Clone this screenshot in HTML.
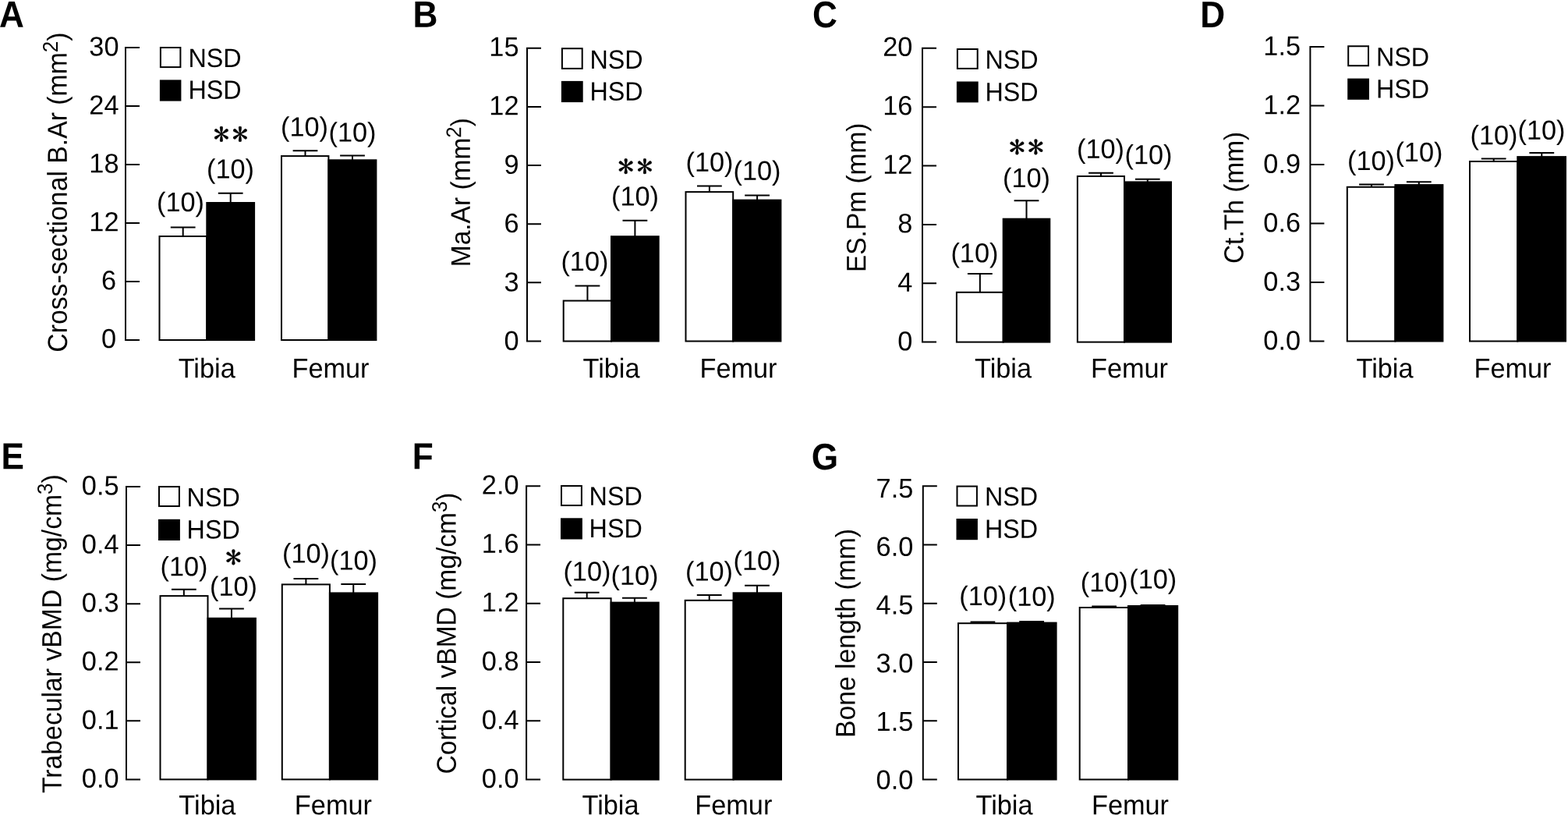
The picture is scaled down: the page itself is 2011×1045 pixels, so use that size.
<!DOCTYPE html>
<html lang="en">
<head>
<meta charset="utf-8">
<title>Bone morphometry: NSD vs HSD (Tibia, Femur)</title>
<style>
html,body{margin:0;padding:0;background:#fff}
body{width:2011px;height:1045px;overflow:hidden}
svg{display:block}
text{font-family:"Liberation Sans",Arial,Helvetica,sans-serif;fill:#000;text-rendering:geometricPrecision}
.let{font-weight:bold;font-size:47.5px}
.tk,.tl{font-size:34.3px}
.ttl{font-size:33.75px}
.lg{font-size:32.3px}
.nn{font-size:34.3px}
.st{font-family:"IPAGothic","DejaVu Serif",serif;font-size:39.3px;stroke:#000;stroke-width:.45px}
.ln{fill:none;stroke:#000;stroke-width:2}
.wb{fill:#fff;stroke:#000;stroke-width:2}
.bb{fill:#000;stroke:#000;stroke-width:2}
</style>
</head>
<body>
<svg xmlns="http://www.w3.org/2000/svg" width="2011" height="1045" viewBox="0 0 2011 1045">
<rect x="0" y="0" width="2011" height="1045" fill="#fff"/>
<g>
<text class="let" transform="translate(-1 34.7) rotate(0.05) scale(0.93 1)">A</text>
<text class="ttl" transform="translate(85.7 246.6) rotate(-90.05) scale(1 1.045)" text-anchor="middle">Cross-sectional B.Ar (mm<tspan style="font-size:25.99px" dy="-11">2</tspan><tspan dy="11">)</tspan></text>
<path class="ln" d="M179 61H161V436H179M161 136H179M161 211H179M161 286H179M161 361H179"/>
<text class="tl" transform="translate(152.5 71.6) rotate(0.05) scale(1 1.018)" text-anchor="end">30</text>
<text class="tl" transform="translate(152.5 146.5) rotate(0.05) scale(1 1.018)" text-anchor="end">24</text>
<text class="tl" transform="translate(152.5 221.4) rotate(0.05) scale(1 1.018)" text-anchor="end">18</text>
<text class="tl" transform="translate(152.5 296.3) rotate(0.05) scale(1 1.018)" text-anchor="end">12</text>
<text class="tl" transform="translate(149 371.2) rotate(0.05) scale(1 1.018)" text-anchor="end">6</text>
<text class="tl" transform="translate(149 446.1) rotate(0.05) scale(1 1.018)" text-anchor="end">0</text>
<rect class="wb" x="205.9" y="61" width="25.5" height="25.1"/>
<rect class="bb" x="205.9" y="103.4" width="25.5" height="25.2"/>
<text class="lg" transform="translate(241.5 86) rotate(0.05) scale(1 1.05)">NSD</text>
<text class="lg" transform="translate(241.5 126.8) rotate(0.05) scale(1 1.05)">HSD</text>
<path class="ln" d="M218.8 291.4H250.6M234.7 291.4V303"/>
<rect class="wb" x="204.5" y="303" width="60.8" height="133"/>
<text class="nn" transform="translate(231.5 271.1) rotate(0.05) scale(1 1.018)" text-anchor="middle">(10)</text>
<path class="ln" d="M279.8 247.7H311.6M295.7 247.7V260"/>
<rect class="bb" x="265.3" y="260" width="60.8" height="176"/>
<text class="nn" transform="translate(295.5 228.5) rotate(0.05) scale(1 1.018)" text-anchor="middle">(10)</text>
<text class="st" transform="translate(283.8 171.9) rotate(0.05) scale(1.06 1)" x="-9.82 12.96" y="14.93">**</text>
<path class="ln" d="M375.6 193.2H407.4M391.5 193.2V200.1"/>
<rect class="wb" x="361" y="200.1" width="60.4" height="235.9"/>
<text class="nn" transform="translate(390.5 174.5) rotate(0.05) scale(1 1.018)" text-anchor="middle">(10)</text>
<path class="ln" d="M436.1 199.6H467.9M452 199.6V205.3"/>
<rect class="bb" x="421.4" y="205.3" width="61" height="230.7"/>
<text class="nn" transform="translate(452 181.5) rotate(0.05) scale(1 1.018)" text-anchor="middle">(10)</text>
<text class="tk" transform="translate(265.2 484.2) rotate(0.05) scale(1 1.03)" text-anchor="middle">Tibia</text>
<text class="tk" transform="translate(424 484.2) rotate(0.05) scale(1 1.03)" text-anchor="middle">Femur</text>
</g>
<g>
<text class="let" transform="translate(529.5 34.7) rotate(0.05) scale(0.93 1)">B</text>
<text class="ttl" transform="translate(602.8 246.7) rotate(-90.05) scale(1 1.045)" text-anchor="middle" style="font-size:33.5px">Ma.Ar (mm<tspan style="font-size:25.8px" dy="-11">2</tspan><tspan dy="11">)</tspan></text>
<path class="ln" d="M694 61.8H676V437.5H694M676 136.94H694M676 212.08H694M676 287.22H694M676 362.36H694"/>
<text class="tl" transform="translate(665.5 71.9) rotate(0.05) scale(1 1.018)" text-anchor="end">15</text>
<text class="tl" transform="translate(665.5 147.28) rotate(0.05) scale(1 1.018)" text-anchor="end">12</text>
<text class="tl" transform="translate(665.5 222.66) rotate(0.05) scale(1 1.018)" text-anchor="end">9</text>
<text class="tl" transform="translate(665.5 298.04) rotate(0.05) scale(1 1.018)" text-anchor="end">6</text>
<text class="tl" transform="translate(665.5 373.42) rotate(0.05) scale(1 1.018)" text-anchor="end">3</text>
<text class="tl" transform="translate(665.5 448.8) rotate(0.05) scale(1 1.018)" text-anchor="end">0</text>
<rect class="wb" x="720.9" y="62.2" width="25.8" height="25.7"/>
<rect class="bb" x="720.9" y="104.9" width="25.8" height="25.2"/>
<text class="lg" transform="translate(756.5 88) rotate(0.05) scale(1 1.05)">NSD</text>
<text class="lg" transform="translate(756.5 128.7) rotate(0.05) scale(1 1.05)">HSD</text>
<path class="ln" d="M737.55 366.4H769.35M753.45 366.4V385.6"/>
<rect class="wb" x="722.7" y="385.6" width="61.3" height="51.9"/>
<text class="nn" transform="translate(749.9 347) rotate(0.05) scale(1 1.018)" text-anchor="middle">(10)</text>
<path class="ln" d="M798.5 282.8H830.3M814.4 282.8V303.2"/>
<rect class="bb" x="784" y="303.2" width="60.7" height="134.3"/>
<text class="nn" transform="translate(814.5 263.4) rotate(0.05) scale(1 1.018)" text-anchor="middle">(10)</text>
<text class="st" transform="translate(802.7 213) rotate(0.05) scale(1.06 1)" x="-9.82 12.96" y="14.93">**</text>
<path class="ln" d="M894 238.6H925.8M909.9 238.6V246.1"/>
<rect class="wb" x="879.5" y="246.1" width="60.7" height="191.4"/>
<text class="nn" transform="translate(910 219.7) rotate(0.05) scale(1 1.018)" text-anchor="middle">(10)</text>
<path class="ln" d="M955.2 250.5H987M971.1 250.5V256.6"/>
<rect class="bb" x="940.2" y="256.6" width="61.2" height="180.9"/>
<text class="nn" transform="translate(971 230.7) rotate(0.05) scale(1 1.018)" text-anchor="middle">(10)</text>
<text class="tk" transform="translate(784 484.2) rotate(0.05) scale(1 1.03)" text-anchor="middle">Tibia</text>
<text class="tk" transform="translate(947 484.2) rotate(0.05) scale(1 1.03)" text-anchor="middle">Femur</text>
</g>
<g>
<text class="let" transform="translate(1042 35) rotate(0.05) scale(0.93 1)">C</text>
<text class="ttl" transform="translate(1110.2 253.3) rotate(-90.05) scale(1 1.045)" text-anchor="middle" style="font-size:33.46px">ES.Pm (mm)</text>
<path class="ln" d="M1201 61.8H1183V438.6H1201M1183 137.16H1201M1183 212.52H1201M1183 287.88H1201M1183 363.24H1201"/>
<text class="tl" transform="translate(1170.4 71.7) rotate(0.05) scale(1 1.018)" text-anchor="end">20</text>
<text class="tl" transform="translate(1170.4 147.2) rotate(0.05) scale(1 1.018)" text-anchor="end">16</text>
<text class="tl" transform="translate(1170.4 222.7) rotate(0.05) scale(1 1.018)" text-anchor="end">12</text>
<text class="tl" transform="translate(1170.4 298.2) rotate(0.05) scale(1 1.018)" text-anchor="end">8</text>
<text class="tl" transform="translate(1170.4 373.7) rotate(0.05) scale(1 1.018)" text-anchor="end">4</text>
<text class="tl" transform="translate(1170.4 449.2) rotate(0.05) scale(1 1.018)" text-anchor="end">0</text>
<rect class="wb" x="1227.9" y="63" width="25.8" height="24.9"/>
<rect class="bb" x="1227.9" y="105.5" width="25.8" height="24.9"/>
<text class="lg" transform="translate(1263.5 87.95) rotate(0.05) scale(1 1.05)">NSD</text>
<text class="lg" transform="translate(1263.5 129.5) rotate(0.05) scale(1 1.05)">HSD</text>
<path class="ln" d="M1240.95 350.9H1272.75M1256.85 350.9V374.8"/>
<rect class="wb" x="1226.9" y="374.8" width="59.8" height="63.8"/>
<text class="nn" transform="translate(1249.9 336.3) rotate(0.05) scale(1 1.018)" text-anchor="middle">(10)</text>
<path class="ln" d="M1300.6 257.2H1332.4M1316.5 257.2V280.7"/>
<rect class="bb" x="1286.7" y="280.7" width="59.6" height="157.9"/>
<text class="nn" transform="translate(1316.5 240.1) rotate(0.05) scale(1 1.018)" text-anchor="middle">(10)</text>
<text class="st" transform="translate(1304.3 188.2) rotate(0.05) scale(1.06 1)" x="-9.82 12.96" y="14.93">**</text>
<path class="ln" d="M1396.1 221.8H1427.9M1412 221.8V226"/>
<rect class="wb" x="1381.9" y="226" width="60.1" height="212.6"/>
<text class="nn" transform="translate(1411.5 202.7) rotate(0.05) scale(1 1.018)" text-anchor="middle">(10)</text>
<path class="ln" d="M1455.9 229.8H1487.7M1471.8 229.8V233.4"/>
<rect class="bb" x="1442" y="233.4" width="60" height="205.2"/>
<text class="nn" transform="translate(1473 210.3) rotate(0.05) scale(1 1.018)" text-anchor="middle">(10)</text>
<text class="tk" transform="translate(1286.5 484.2) rotate(0.05) scale(1 1.03)" text-anchor="middle">Tibia</text>
<text class="tk" transform="translate(1448.5 484.2) rotate(0.05) scale(1 1.03)" text-anchor="middle">Femur</text>
</g>
<g>
<text class="let" transform="translate(1539.2 35) rotate(0.05) scale(0.93 1)">D</text>
<text class="ttl" transform="translate(1594.5 253.4) rotate(-90.05) scale(1 1.045)" text-anchor="middle" style="font-size:33.5px">Ct.Th (mm)</text>
<path class="ln" d="M1698.4 60H1680.4V437.5H1698.4M1680.4 135.5H1698.4M1680.4 211H1698.4M1680.4 286.5H1698.4M1680.4 362H1698.4"/>
<text class="tl" transform="translate(1668 70.8) rotate(0.05) scale(1 1.018)" text-anchor="end">1.5</text>
<text class="tl" transform="translate(1668 146.32) rotate(0.05) scale(1 1.018)" text-anchor="end">1.2</text>
<text class="tl" transform="translate(1668 221.84) rotate(0.05) scale(1 1.018)" text-anchor="end">0.9</text>
<text class="tl" transform="translate(1668 297.36) rotate(0.05) scale(1 1.018)" text-anchor="end">0.6</text>
<text class="tl" transform="translate(1668 372.88) rotate(0.05) scale(1 1.018)" text-anchor="end">0.3</text>
<text class="tl" transform="translate(1668 448.4) rotate(0.05) scale(1 1.018)" text-anchor="end">0.0</text>
<rect class="wb" x="1729.2" y="59.25" width="25.8" height="25"/>
<rect class="bb" x="1729.2" y="101.6" width="25.8" height="25.2"/>
<text class="lg" transform="translate(1765 84.6) rotate(0.05) scale(1 1.05)">NSD</text>
<text class="lg" transform="translate(1765 125.6) rotate(0.05) scale(1 1.05)">HSD</text>
<path class="ln" d="M1743.1 236.5H1774.9M1759 236.5V239.8"/>
<rect class="wb" x="1727.8" y="239.8" width="61.6" height="197.7"/>
<text class="nn" transform="translate(1758.5 217.9) rotate(0.05) scale(1 1.018)" text-anchor="middle">(10)</text>
<path class="ln" d="M1803.9 233.3H1835.7M1819.8 233.3V237.1"/>
<rect class="bb" x="1789.4" y="237.1" width="61" height="200.4"/>
<text class="nn" transform="translate(1819.9 206.9) rotate(0.05) scale(1 1.018)" text-anchor="middle">(10)</text>
<path class="ln" d="M1899.8 203.5H1931.6M1915.7 203.5V207"/>
<rect class="wb" x="1885" y="207" width="61.3" height="230.5"/>
<text class="nn" transform="translate(1916 185.2) rotate(0.05) scale(1 1.018)" text-anchor="middle">(10)</text>
<path class="ln" d="M1961.4 196H1993.2M1977.3 196V201.1"/>
<rect class="bb" x="1946.3" y="201.1" width="61.7" height="236.4"/>
<text class="nn" transform="translate(1977 178.8) rotate(0.05) scale(1 1.018)" text-anchor="middle">(10)</text>
<text class="tk" transform="translate(1776 484.2) rotate(0.05) scale(1 1.03)" text-anchor="middle">Tibia</text>
<text class="tk" transform="translate(1940 484.2) rotate(0.05) scale(1 1.03)" text-anchor="middle">Femur</text>
</g>
<g>
<text class="let" transform="translate(1.5 601.3) rotate(0.05) scale(0.93 1)">E</text>
<text class="ttl" transform="translate(78.6 812.6) rotate(-90.05) scale(1 1.045)" text-anchor="middle">Trabecular vBMD (mg/cm<tspan style="font-size:25.99px" dy="-11">3</tspan><tspan dy="11">)</tspan></text>
<path class="ln" d="M180 624H162V999.4H180M162 699.08H180M162 774.16H180M162 849.24H180M162 924.32H180"/>
<text class="tl" transform="translate(152.5 634.4) rotate(0.05) scale(1 1.018)" text-anchor="end">0.5</text>
<text class="tl" transform="translate(152.5 709.48) rotate(0.05) scale(1 1.018)" text-anchor="end">0.4</text>
<text class="tl" transform="translate(152.5 784.56) rotate(0.05) scale(1 1.018)" text-anchor="end">0.3</text>
<text class="tl" transform="translate(152.5 859.64) rotate(0.05) scale(1 1.018)" text-anchor="end">0.2</text>
<text class="tl" transform="translate(152.5 934.72) rotate(0.05) scale(1 1.018)" text-anchor="end">0.1</text>
<text class="tl" transform="translate(152.5 1009.8) rotate(0.05) scale(1 1.018)" text-anchor="end">0.0</text>
<rect class="wb" x="204" y="624.05" width="25.9" height="25"/>
<rect class="bb" x="204" y="666.8" width="25.9" height="25.2"/>
<text class="lg" transform="translate(239.6 649.3) rotate(0.05) scale(1 1.05)">NSD</text>
<text class="lg" transform="translate(239.6 690.6) rotate(0.05) scale(1 1.05)">HSD</text>
<path class="ln" d="M219.95 755.7H251.75M235.85 755.7V764.1"/>
<rect class="wb" x="205.5" y="764.1" width="61" height="235.3"/>
<text class="nn" transform="translate(236 738.3) rotate(0.05) scale(1 1.018)" text-anchor="middle">(10)</text>
<path class="ln" d="M281.05 780.5H312.85M296.95 780.5V792.8"/>
<rect class="bb" x="266.5" y="792.8" width="61.4" height="206.6"/>
<text class="nn" transform="translate(299.5 763.7) rotate(0.05) scale(1 1.018)" text-anchor="middle">(10)</text>
<text class="st" transform="translate(299.3 714.3) rotate(0.05) scale(1.06 1)" x="-9.82" y="14.93">*</text>
<path class="ln" d="M376.5 742.1H408.3M392.4 742.1V749.4"/>
<rect class="wb" x="361.8" y="749.4" width="61.1" height="250"/>
<text class="nn" transform="translate(392.5 721.4) rotate(0.05) scale(1 1.018)" text-anchor="middle">(10)</text>
<path class="ln" d="M437.35 748.9H469.15M453.25 748.9V760.4"/>
<rect class="bb" x="422.9" y="760.4" width="61.2" height="239"/>
<text class="nn" transform="translate(453.5 730.4) rotate(0.05) scale(1 1.018)" text-anchor="middle">(10)</text>
<text class="tk" transform="translate(265.9 1044.3) rotate(0.05) scale(1 1.03)" text-anchor="middle">Tibia</text>
<text class="tk" transform="translate(427.4 1044.3) rotate(0.05) scale(1 1.03)" text-anchor="middle">Femur</text>
</g>
<g>
<text class="let" transform="translate(528.7 601.3) rotate(0.05) scale(0.93 1)">F</text>
<text class="ttl" transform="translate(584.6 812) rotate(-90.05) scale(1 1.045)" text-anchor="middle" style="font-size:33.54px">Cortical vBMD (mg/cm<tspan style="font-size:25.83px" dy="-11">3</tspan><tspan dy="11">)</tspan></text>
<path class="ln" d="M693.1 623.3H675.1V999.6H693.1M675.1 698.56H693.1M675.1 773.82H693.1M675.1 849.08H693.1M675.1 924.34H693.1"/>
<text class="tl" transform="translate(665.5 633.5) rotate(0.05) scale(1 1.018)" text-anchor="end">2.0</text>
<text class="tl" transform="translate(665.5 708.82) rotate(0.05) scale(1 1.018)" text-anchor="end">1.6</text>
<text class="tl" transform="translate(665.5 784.14) rotate(0.05) scale(1 1.018)" text-anchor="end">1.2</text>
<text class="tl" transform="translate(665.5 859.46) rotate(0.05) scale(1 1.018)" text-anchor="end">0.8</text>
<text class="tl" transform="translate(665.5 934.78) rotate(0.05) scale(1 1.018)" text-anchor="end">0.4</text>
<text class="tl" transform="translate(665.5 1010.1) rotate(0.05) scale(1 1.018)" text-anchor="end">0.0</text>
<rect class="wb" x="720" y="623.05" width="25.9" height="25"/>
<rect class="bb" x="720" y="665.3" width="25.9" height="25.2"/>
<text class="lg" transform="translate(755.6 647.8) rotate(0.05) scale(1 1.05)">NSD</text>
<text class="lg" transform="translate(755.6 689.1) rotate(0.05) scale(1 1.05)">HSD</text>
<path class="ln" d="M736.8 759.8H768.6M752.7 759.8V767.2"/>
<rect class="wb" x="722.3" y="767.2" width="61.3" height="232.4"/>
<text class="nn" transform="translate(752.9 744.6) rotate(0.05) scale(1 1.018)" text-anchor="middle">(10)</text>
<path class="ln" d="M798 766.8H829.8M813.9 766.8V772.6"/>
<rect class="bb" x="783.6" y="772.6" width="61.1" height="227"/>
<text class="nn" transform="translate(814 749.7) rotate(0.05) scale(1 1.018)" text-anchor="middle">(10)</text>
<path class="ln" d="M893.8 762.9H925.6M909.7 762.9V769.8"/>
<rect class="wb" x="878.7" y="769.8" width="61.9" height="229.8"/>
<text class="nn" transform="translate(909.5 744.6) rotate(0.05) scale(1 1.018)" text-anchor="middle">(10)</text>
<path class="ln" d="M955.1 750.8H986.9M971 750.8V760.3"/>
<rect class="bb" x="940.6" y="760.3" width="61.4" height="239.3"/>
<text class="nn" transform="translate(971 730.8) rotate(0.05) scale(1 1.018)" text-anchor="middle">(10)</text>
<text class="tk" transform="translate(783 1044.3) rotate(0.05) scale(1 1.03)" text-anchor="middle">Tibia</text>
<text class="tk" transform="translate(940.8 1044.3) rotate(0.05) scale(1 1.03)" text-anchor="middle">Femur</text>
</g>
<g>
<text class="let" transform="translate(1040.7 601.9) rotate(0.05) scale(0.93 1)">G</text>
<text class="ttl" transform="translate(1096.5 812) rotate(-90.05) scale(1 1.045)" text-anchor="middle">Bone length (mm)</text>
<path class="ln" d="M1201.8 623.3H1183.8V999.5H1201.8M1183.8 698.54H1201.8M1183.8 773.78H1201.8M1183.8 849.02H1201.8M1183.8 924.26H1201.8"/>
<text class="tl" transform="translate(1171.3 638.1) rotate(0.05) scale(1 1.018)" text-anchor="end">7.5</text>
<text class="tl" transform="translate(1171.3 712.82) rotate(0.05) scale(1 1.018)" text-anchor="end">6.0</text>
<text class="tl" transform="translate(1171.3 787.54) rotate(0.05) scale(1 1.018)" text-anchor="end">4.5</text>
<text class="tl" transform="translate(1171.3 862.26) rotate(0.05) scale(1 1.018)" text-anchor="end">3.0</text>
<text class="tl" transform="translate(1171.3 936.98) rotate(0.05) scale(1 1.018)" text-anchor="end">1.5</text>
<text class="tl" transform="translate(1171.3 1011.7) rotate(0.05) scale(1 1.018)" text-anchor="end">0.0</text>
<rect class="wb" x="1227.5" y="623.55" width="25.4" height="25"/>
<rect class="bb" x="1227.5" y="666" width="25.4" height="25.2"/>
<text class="lg" transform="translate(1263 648.2) rotate(0.05) scale(1 1.05)">NSD</text>
<text class="lg" transform="translate(1263 689.8) rotate(0.05) scale(1 1.05)">HSD</text>
<path class="ln" d="M1244.55 797.4H1276.35M1260.45 797.4V799.2"/>
<rect class="wb" x="1229" y="799.2" width="63.1" height="200.3"/>
<text class="nn" transform="translate(1260.8 776.1) rotate(0.05) scale(1 1.018)" text-anchor="middle">(10)</text>
<path class="ln" d="M1307.25 797.1H1339.05M1323.15 797.1V798.6"/>
<rect class="bb" x="1292.1" y="798.6" width="62.5" height="200.9"/>
<text class="nn" transform="translate(1323.3 776.7) rotate(0.05) scale(1 1.018)" text-anchor="middle">(10)</text>
<path class="ln" d="M1400.25 777.5H1432.05M1416.15 777.5V779"/>
<rect class="wb" x="1384.7" y="779" width="62.3" height="220.5"/>
<text class="nn" transform="translate(1416.3 758.5) rotate(0.05) scale(1 1.018)" text-anchor="middle">(10)</text>
<path class="ln" d="M1462.7 776H1494.5M1478.6 776V777"/>
<rect class="bb" x="1447" y="777" width="63.2" height="222.5"/>
<text class="nn" transform="translate(1478.8 754.6) rotate(0.05) scale(1 1.018)" text-anchor="middle">(10)</text>
<text class="tk" transform="translate(1288 1044.3) rotate(0.05) scale(1 1.03)" text-anchor="middle">Tibia</text>
<text class="tk" transform="translate(1449.5 1044.3) rotate(0.05) scale(1 1.03)" text-anchor="middle">Femur</text>
</g>
</svg>
</body>
</html>
